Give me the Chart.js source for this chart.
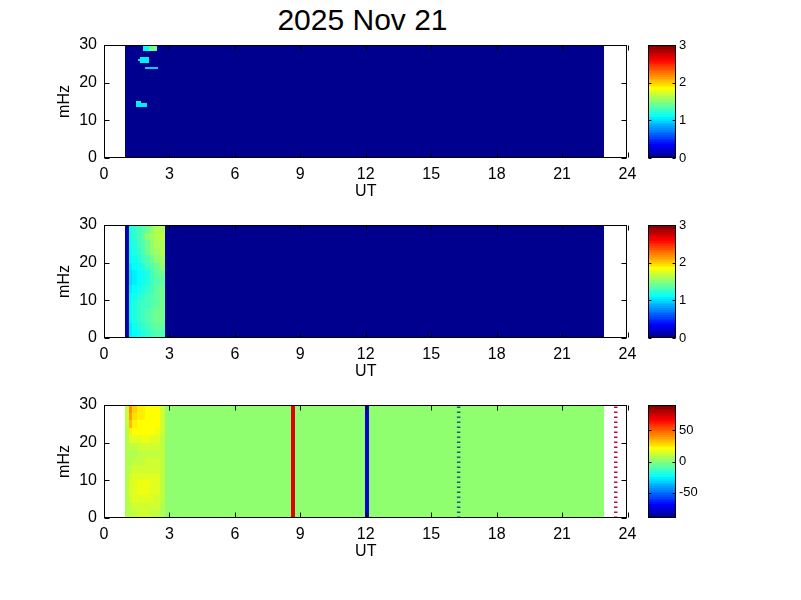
<!DOCTYPE html>
<html><head><meta charset="utf-8">
<script src="https://cdn.jsdelivr.net/npm/chart.js@4"></script>
<style>
html,body{margin:0;padding:0;background:#fff;}
#wrap{position:relative;width:801px;height:600px;overflow:hidden;background:#fff;}
canvas{position:absolute;}
#title{position:absolute;left:0;top:5px;width:725px;text-align:center;font:30px/30px "Liberation Sans",Arial,sans-serif;color:#000;}
</style></head>
<body><div id="wrap">
<div id="title">2025 Nov 21</div>
<canvas id="p1" width="640" height="200" style="left:0;top:15px;width:640px;height:200px"></canvas>
<canvas id="c1" width="100" height="200" style="left:640px;top:15px;width:100px;height:200px"></canvas>
<canvas id="p2" width="640" height="200" style="left:0;top:195px;width:640px;height:200px"></canvas>
<canvas id="c2" width="100" height="200" style="left:640px;top:195px;width:100px;height:200px"></canvas>
<canvas id="p3" width="640" height="200" style="left:0;top:375px;width:640px;height:200px"></canvas>
<canvas id="c3" width="100" height="200" style="left:640px;top:375px;width:100px;height:200px"></canvas>
</div>
<script>
// ---------------- data ----------------
const xTicks = [0, 3, 6, 9, 12, 15, 18, 21, 24];
const yTicks = [0, 10, 20, 30];
const xLabel = 'UT';
const yLabel = 'mHz';
const dataSpan = [0.97, 22.93];           // UT coverage of the data
const freqEdges = [0, 2, 4, 6, 8, 10, 12, 14, 16, 18, 20, 22, 24, 26, 28, 30];
const segEdges = [0.97, 1.15, 1.3, 1.5, 1.7, 1.9, 2.1, 2.3, 2.55, 2.78]; // active interval columns (UT)

// panel 1: background 0 with a few isolated patches [t0, t1, f0, f1, value]
const p1Background = 0;
const p1Patches = [
  [1.80, 2.05, 28.4, 30.0, 1.10],
  [2.05, 2.45, 28.4, 30.0, 1.42],
  [1.65, 2.06, 25.3, 26.9, 1.05],
  [1.56, 1.65, 25.8, 26.4, 1.00],
  [1.88, 2.48, 23.7, 24.05, 0.95],
  [1.47, 1.70, 14.5, 15.1, 1.10],
  [1.47, 1.96, 13.6, 14.5, 1.05]
];

// panel 2: values per active column (rows = columns of segEdges, values from 0-2 mHz up to 28-30 mHz)
const p2Background = 0;
const p2Values = [
  [0.1,0.1,0.1,0.1,0.1,0.1,0.1,0.1,0.1,0.1,0.1,0.1,0.1,0.1,0.1],
  [1.05,1.05,1.1,1.1,1.1,1.1,1.05,1.0,1.0,1.05,1.1,1.1,1.15,1.15,1.2],
  [1.1,1.15,1.2,1.2,1.2,1.15,1.1,1.05,1.05,1.1,1.15,1.2,1.2,1.25,1.25],
  [1.15,1.2,1.25,1.25,1.25,1.2,1.15,1.1,1.1,1.15,1.2,1.25,1.3,1.3,1.3],
  [1.2,1.25,1.3,1.3,1.3,1.25,1.2,1.15,1.15,1.2,1.3,1.35,1.35,1.4,1.35],
  [1.25,1.3,1.35,1.35,1.3,1.3,1.25,1.2,1.2,1.3,1.35,1.45,1.45,1.5,1.45],
  [1.3,1.35,1.4,1.4,1.35,1.35,1.3,1.3,1.3,1.35,1.45,1.5,1.52,1.55,1.52],
  [1.35,1.4,1.45,1.45,1.4,1.4,1.4,1.35,1.4,1.45,1.5,1.55,1.6,1.62,1.6],
  [1.35,1.4,1.45,1.45,1.45,1.45,1.45,1.4,1.45,1.5,1.55,1.6,1.62,1.65,1.62]
];

// panel 3
const p3Background = 0;
const p3Values = [
  [6,6,7,7,8,8,8,6,6,6,7,8,9,10,11],
  [9,11,14,16,16,14,11,8,7,9,15,24,32,38,42],
  [11,13,15,17,17,15,12,9,8,11,17,21,25,28,30],
  [12,14,16,18,18,16,13,10,9,12,17,20,22,23,23],
  [12,14,17,18,18,17,14,11,10,13,18,21,22,23,23],
  [12,14,17,18,18,17,14,12,11,13,18,21,22,22,22],
  [11,13,16,17,17,16,14,12,11,13,17,20,21,21,21],
  [10,12,14,16,16,15,13,12,11,13,16,18,20,21,20],
  [7,8,10,11,11,11,10,9,9,10,11,12,13,13,12]
];
const p3Bands = [[8.57, 8.75, 72], [11.97, 12.15, -78]];   // [t0, t1, value] full-height columns
const markerTimes = [16.26, 23.46];
const markerColors = ['#0f5f7a', '#b0103a'];

const clim12 = [0, 3];
const clim3 = [-91, 91];
const cbarTicks12 = [0, 1, 2, 3];
const cbarTicks3 = [-50, 0, 50];

// ---------------- colormap (jet, 64 levels) ----------------
function u(k){ return k <= 16 ? k/16 : (k <= 31 ? 1 : (48 - k)/16); }
function jet(idx){
  let r = 0, g = 0, b = 0;
  if (idx >= 9 && idx <= 55) g = u(idx - 8);
  if (idx >= 25) r = u(idx - 24);
  if (idx <= 39) b = u(idx + 8);
  return 'rgb(' + Math.round(r*255) + ',' + Math.round(g*255) + ',' + Math.round(b*255) + ')';
}
function colorFor(v, lim){
  let i = Math.floor((v - lim[0]) / (lim[1] - lim[0]) * 64) + 1;
  i = Math.max(1, Math.min(64, i));
  return jet(i);
}

// ---------------- build cell lists ----------------
function gridCells(values){
  const cells = [];
  values.forEach((col, c) => {
    col.forEach((v, f) => cells.push([segEdges[c], segEdges[c+1], freqEdges[f], freqEdges[f+1], v]));
  });
  return cells;
}
const fTop = freqEdges[freqEdges.length - 1];
const cells1 = [[dataSpan[0], dataSpan[1], 0, fTop, p1Background]].concat(p1Patches);
const cells2 = [[dataSpan[0], dataSpan[1], 0, fTop, p2Background]].concat(gridCells(p2Values));
const cells3 = [[dataSpan[0], dataSpan[1], 0, fTop, p3Background]].concat(gridCells(p3Values))
  .concat(p3Bands.map(b => [b[0], b[1], 0, fTop, b[2]]));

// ---------------- plugins ----------------
function heatPlugin(cells, lim){
  return {
    id: 'heat',
    beforeDatasetsDraw(chart){
      const {ctx, chartArea: a, scales: {x, y}} = chart;
      ctx.save();
      ctx.beginPath(); ctx.rect(a.left, a.top, a.right - a.left, a.bottom - a.top); ctx.clip();
      for (const [t0, t1, f0, f1, v] of cells){
        const x0 = Math.round(x.getPixelForValue(t0)), x1 = Math.round(x.getPixelForValue(t1));
        const y0 = Math.round(y.getPixelForValue(f1)), y1 = Math.round(y.getPixelForValue(f0));
        ctx.fillStyle = colorFor(v, lim);
        ctx.fillRect(x0, y0, x1 - x0, y1 - y0);
      }
      ctx.restore();
    }
  };
}
const framePlugin = {
  id: 'frame',
  afterDatasetsDraw(chart){
    const {ctx, chartArea: a, scales: {x, y}} = chart;
    const L = Math.floor(a.left) + 0.5, R = Math.floor(a.right) - 0.5;
    const T = Math.floor(a.top) + 0.5, B = Math.floor(a.bottom) - 0.5;
    ctx.save();
    ctx.strokeStyle = '#000'; ctx.lineWidth = 1;
    ctx.beginPath();
    for (const t of xTicks){
      const px = Math.round(x.getPixelForValue(t)) + 0.5;
      ctx.moveTo(px, B); ctx.lineTo(px, B - 5);
      ctx.moveTo(px, T); ctx.lineTo(px, T + 5);
    }
    for (const f of yTicks){
      const py = Math.round(y.getPixelForValue(f)) + 0.5;
      ctx.moveTo(L, py); ctx.lineTo(L + 5, py);
      ctx.moveTo(R, py); ctx.lineTo(R - 5, py);
    }
    ctx.stroke();
    ctx.strokeRect(L, T, R - L, B - T);
    ctx.restore();
  }
};
function cbarPlugin(lim, ticks){
  return {
    id: 'cbar',
    beforeDatasetsDraw(chart){
      const {ctx, chartArea: a, scales: {y}} = chart;
      ctx.save();
      for (let i = 0; i < 64; i++){
        const v0 = lim[0] + i * (lim[1] - lim[0]) / 64, v1 = lim[0] + (i + 1) * (lim[1] - lim[0]) / 64;
        const y0 = Math.round(y.getPixelForValue(v1)), y1 = Math.round(y.getPixelForValue(v0));
        ctx.fillStyle = jet(i + 1);
        ctx.fillRect(a.left, y0, a.right - a.left, y1 - y0);
      }
      const L = Math.floor(a.left) + 0.5, R = Math.floor(a.right) - 0.5;
      const T = Math.floor(a.top) + 0.5, B = Math.floor(a.bottom) - 0.5;
      ctx.strokeStyle = '#000'; ctx.lineWidth = 1;
      ctx.beginPath();
      for (const t of ticks){
        const py = Math.round(y.getPixelForValue(t)) + 0.5;
        ctx.moveTo(L, py); ctx.lineTo(L + 3, py);
        ctx.moveTo(R, py); ctx.lineTo(R - 3, py);
      }
      ctx.stroke();
      ctx.strokeRect(L, T, R - L, B - T);
      ctx.restore();
    }
  };
}

// ---------------- charts ----------------
Chart.defaults.font.family = '"Liberation Sans", Arial, sans-serif';
Chart.defaults.color = '#000';

function panel(id, cells, lim, datasets){
  return new Chart(document.getElementById(id), {
    type: 'scatter',
    data: { datasets: datasets },
    options: {
      responsive: false, animation: false, devicePixelRatio: 1,
      layout: { padding: { left: 55, right: 12.5, top: 30, bottom: 14 } },
      plugins: { legend: { display: false }, tooltip: { enabled: false } },
      events: [],
      scales: {
        x: {
          type: 'linear', min: xTicks[0], max: xTicks[xTicks.length - 1],
          afterBuildTicks: s => { s.ticks = xTicks.map(v => ({ value: v })); },
          afterFit: s => { s.height = 43; },
          grid: { display: false, drawTicks: true, tickLength: 7 }, border: { display: false },
          ticks: { font: { size: 16 }, padding: 0, maxRotation: 0, autoSkip: false, color: '#000' },
          title: { display: true, text: xLabel, font: { size: 16 }, padding: 0, color: '#000' }
        },
        y: {
          type: 'linear', min: yTicks[0], max: yTicks[yTicks.length - 1],
          afterBuildTicks: s => { s.ticks = yTicks.map(v => ({ value: v })); },
          afterFit: s => { s.width = 49; },
          grid: { display: false, drawTicks: true, tickLength: 7 }, border: { display: false },
          ticks: { font: { size: 16 }, padding: 0, autoSkip: false, color: '#000' },
          title: { display: true, text: yLabel, font: { size: 16 }, padding: 0, color: '#000' }
        }
      }
    },
    plugins: [heatPlugin(cells, lim), framePlugin]
  });
}
function colorbar(id, lim, ticks){
  return new Chart(document.getElementById(id), {
    type: 'scatter',
    data: { datasets: [] },
    options: {
      responsive: false, animation: false, devicePixelRatio: 1,
      layout: { padding: { left: 8, right: 0, top: 30, bottom: 57 } },
      plugins: { legend: { display: false }, tooltip: { enabled: false } },
      events: [],
      scales: {
        x: { type: 'linear', display: false, min: 0, max: 1 },
        y: {
          type: 'linear', position: 'right', min: lim[0], max: lim[1],
          afterBuildTicks: s => { s.ticks = ticks.map(v => ({ value: v })); },
          afterFit: s => { s.width = 64; },
          grid: { display: false, drawTicks: true, tickLength: 3 }, border: { display: false },
          ticks: { font: { size: 13 }, padding: 0, autoSkip: false, color: '#000' }
        }
      }
    },
    plugins: [cbarPlugin(lim, ticks)]
  });
}

const markerSets = markerTimes.map((t, i) => ({
  type: 'line', showLine: true,
  data: [{ x: t, y: yTicks[0] }, { x: t, y: yTicks[yTicks.length - 1] }],
  borderColor: markerColors[i], borderWidth: 3.5, borderDash: [1.5, 3.5],
  pointRadius: 0, fill: false
}));

panel('p1', cells1, clim12, []);
panel('p2', cells2, clim12, []);
panel('p3', cells3, clim3, markerSets);
colorbar('c1', clim12, cbarTicks12);
colorbar('c2', clim12, cbarTicks12);
colorbar('c3', clim3, cbarTicks3);
</script>
</body></html>
